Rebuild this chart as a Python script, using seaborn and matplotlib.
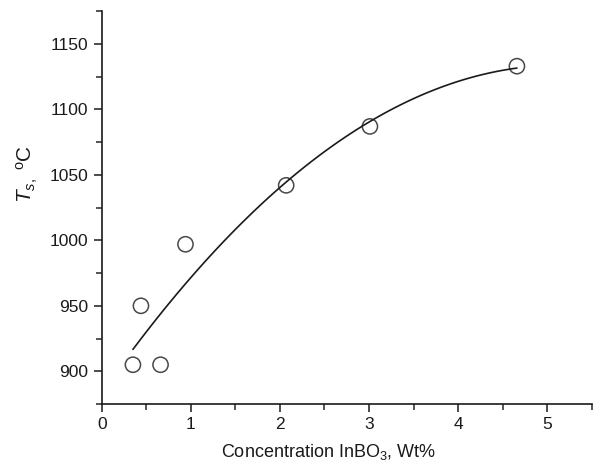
import matplotlib
matplotlib.use("Agg")
import matplotlib.pyplot as plt
from matplotlib.ticker import MultipleLocator
import seaborn as sns
import pandas as pd

# data
concentration = [0.35, 0.44, 0.66, 0.94, 2.07, 3.01, 4.66]
temperature = [905, 950, 905, 997, 1042, 1087, 1133]

df = pd.DataFrame({"conc": concentration, "ts": temperature})

sns.set_style("ticks")
plt.rcParams["font.family"] = ["Liberation Sans", "DejaVu Sans"]
plt.rcParams["mathtext.fontset"] = "custom"
plt.rcParams["mathtext.rm"] = "Liberation Sans"
plt.rcParams["mathtext.it"] = "Liberation Sans:italic"

fig = plt.figure(figsize=(6.02, 4.66), dpi=100)
ax = fig.add_axes([0.169, 0.133, 0.814, 0.843])

# quadratic fit through the points plus open circle markers
sns.regplot(x="conc", y="ts", data=df, order=2, ci=None, ax=ax,
            scatter_kws={"s": 120, "facecolors": "none", "edgecolors": "#1a1a1a",
                         "linewidths": 1.1, "zorder": 3},
            line_kws={"color": "#1a1a1a", "linewidth": 1.2})

ax.set_xlim(0, 5.5)
ax.set_ylim(875, 1175)
ax.xaxis.set_major_locator(MultipleLocator(1))
ax.xaxis.set_minor_locator(MultipleLocator(0.5))
ax.yaxis.set_major_locator(MultipleLocator(50))
ax.yaxis.set_minor_locator(MultipleLocator(25))

ax.tick_params(which="major", length=6, width=1.1, direction="out", labelsize=12.5,
               colors="#1a1a1a")
ax.tick_params(which="minor", length=4, width=1.1, direction="out")

for side in ["left", "bottom"]:
    ax.spines[side].set_linewidth(1.2)
    ax.spines[side].set_color("#1a1a1a")
sns.despine(ax=ax)

ax.set_xlabel("Concentration InBO$_3$, Wt%", fontsize=13, color="#1a1a1a")
ax.set_ylabel(r"$T_{s,}$ $^{\mathrm{o}}$C", fontsize=15, color="#1a1a1a")
ax.xaxis.set_label_coords(0.462, -0.097)
ax.yaxis.set_label_coords(-0.125, 0.585)

fig.savefig("out.png", dpi=100)
